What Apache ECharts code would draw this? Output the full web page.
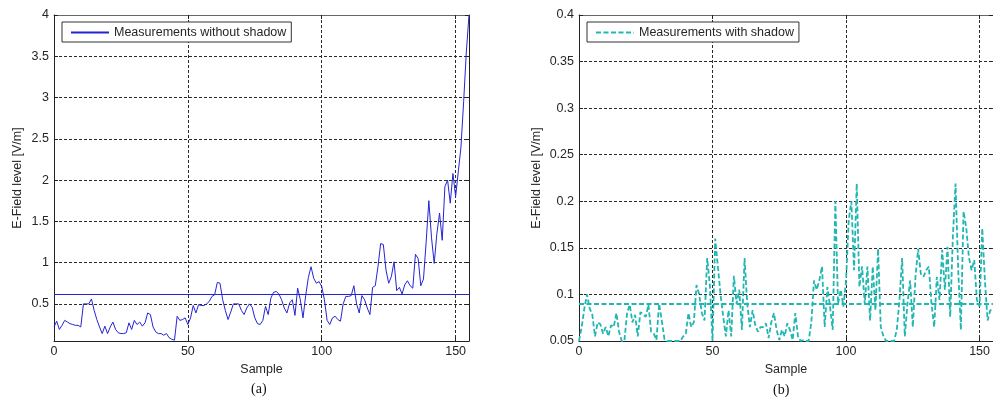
<!DOCTYPE html>
<html>
<head>
<meta charset="utf-8">
<script src="https://cdn.jsdelivr.net/npm/echarts@6/dist/echarts.min.js"></script>
<style>
html,body{margin:0;padding:0;background:#fff;}
#chart{width:993px;height:399px;}
</style>
</head>
<body>
<div id="chart"></div>
<script>
// ---- data ----
const seriesNameA = 'Measurements without shadow';
const seriesNameB = 'Measurements with shadow';

const valuesA = [
  0.22,0.29,0.19,0.24,0.30,0.28,0.26,0.25,0.24,0.24,
  0.22,0.50,0.50,0.50,0.56,0.42,0.31,0.22,0.14,0.23,
  0.14,0.22,0.28,0.19,0.15,0.14,0.14,0.15,0.27,0.19,
  0.30,0.25,0.28,0.23,0.27,0.39,0.37,0.22,0.16,0.14,
  0.14,0.12,0.14,0.09,0.07,0.06,0.35,0.30,0.31,0.33,
  0.25,0.33,0.48,0.39,0.49,0.48,0.48,0.50,0.53,0.59,
  0.61,0.76,0.75,0.55,0.42,0.31,0.40,0.50,0.50,0.50,
  0.42,0.37,0.45,0.50,0.46,0.33,0.26,0.25,0.30,0.47,
  0.37,0.57,0.64,0.65,0.62,0.55,0.45,0.39,0.51,0.55,
  0.36,0.69,0.55,0.33,0.60,0.82,0.95,0.81,0.75,0.77,
  0.71,0.55,0.30,0.25,0.33,0.35,0.31,0.29,0.50,0.59,
  0.59,0.60,0.72,0.50,0.39,0.60,0.55,0.45,0.37,0.70,
  0.72,0.95,1.23,1.22,0.91,0.75,0.83,1.01,0.66,0.70,
  0.62,0.73,0.78,0.72,0.69,1.10,1.05,0.72,0.80,1.25,
  1.75,1.30,0.99,1.35,1.60,1.27,1.92,2.00,1.72,2.08,
  1.80,2.10,2.40,2.95,3.55,4.00
];

const valuesB = [
  0.05,0.065,0.085,0.1,0.085,0.078,0.055,0.07,0.068,0.058,
  0.065,0.055,0.067,0.065,0.08,0.06,0.05,0.05,0.08,0.089,
  0.07,0.078,0.055,0.081,0.079,0.076,0.089,0.06,0.058,0.051,
  0.09,0.072,0.052,0.05,0.05,0.05,0.05,0.05,0.05,0.055,
  0.058,0.08,0.065,0.07,0.11,0.1,0.08,0.072,0.139,0.11,
  0.05,0.16,0.13,0.1,0.076,0.055,0.083,0.055,0.12,0.09,
  0.105,0.062,0.139,0.09,0.065,0.083,0.067,0.06,0.065,0.065,
  0.069,0.053,0.07,0.08,0.062,0.051,0.062,0.055,0.069,0.062,
  0.051,0.08,0.055,0.05,0.051,0.05,0.05,0.07,0.115,0.105,
  0.115,0.13,0.065,0.108,0.087,0.062,0.2,0.09,0.105,0.087,
  0.115,0.18,0.2,0.126,0.219,0.108,0.13,0.09,0.13,0.072,
  0.13,0.083,0.149,0.065,0.055,0.05,0.05,0.05,0.05,0.062,
  0.094,0.139,0.055,0.09,0.115,0.065,0.119,0.149,0.122,0.119,
  0.126,0.13,0.09,0.065,0.119,0.094,0.148,0.105,0.151,0.076,
  0.162,0.219,0.126,0.062,0.189,0.172,0.14,0.126,0.137,0.094,
  0.087,0.171,0.115,0.072,0.083,0.083
];

const meanA = 0.617;
const meanB = 0.0864;

const xTicks = [0, 50, 100, 150];
const yTicksA = [0.5, 1, 1.5, 2, 2.5, 3, 3.5, 4];
const yTicksB = [0.05, 0.1, 0.15, 0.2, 0.25, 0.3, 0.35, 0.4];

const xRange = [0, 155];
const yRangeA = [0.05, 4];
const yRangeB = [0.05, 0.4];

const xAxisName = 'Sample';
const yAxisName = 'E-Field level [V/m]';
const panelLabels = ['(a)', '(b)'];

// ---- styling ----
const FONT = 'Liberation Sans, Arial, sans-serif';
const TXT = '#262626';
const colorA = '#2424d4';
const colorB = '#22b6b1';
const gridLine = { show: true, lineStyle: { color: '#2a2a2a', width: 1, type: [3, 2] } };

function mainX(gridIndex, ticks) {
  return {
    type: 'value', gridIndex, min: xRange[0], max: xRange[1],
    name: xAxisName, nameLocation: 'middle', nameGap: 19,
    nameTextStyle: { fontFamily: FONT, fontSize: 12.5, color: TXT },
    axisLine: { show: true, onZero: false, lineStyle: { color: '#222', width: 1 } },
    axisTick: { show: true, inside: true, length: 4, customValues: ticks, lineStyle: { color: '#222' } },
    axisLabel: { show: true, customValues: ticks, margin: 4, fontFamily: FONT, fontSize: 12.5, color: TXT },
    splitLine: gridLine
  };
}
function boxX(gridIndex, ticks) {
  return {
    type: 'value', gridIndex, min: xRange[0], max: xRange[1], position: 'top',
    axisLine: { show: true, onZero: false, lineStyle: { color: '#666', width: 1 } },
    axisTick: { show: true, inside: true, length: 4, customValues: ticks, lineStyle: { color: '#222' } },
    axisLabel: { show: false }, splitLine: { show: false }
  };
}
function mainY(gridIndex, range, ticks, gap) {
  return {
    type: 'value', gridIndex, min: range[0], max: range[1],
    name: yAxisName, nameLocation: 'middle', nameGap: gap,
    nameTextStyle: { fontFamily: FONT, fontSize: 12.5, color: TXT },
    axisLine: { show: true, onZero: false, lineStyle: { color: '#222', width: 1 } },
    axisTick: { show: true, inside: true, length: 4, customValues: ticks, lineStyle: { color: '#222' } },
    axisLabel: { show: true, customValues: ticks, margin: 5, fontFamily: FONT, fontSize: 12.5, color: TXT },
    splitLine: gridLine
  };
}
function boxY(gridIndex, range, ticks) {
  return {
    type: 'value', gridIndex, min: range[0], max: range[1], position: 'right',
    axisLine: { show: true, onZero: false, lineStyle: { color: '#222', width: 1 } },
    axisTick: { show: true, inside: true, length: 4, customValues: ticks, lineStyle: { color: '#222' } },
    axisLabel: { show: false }, splitLine: { show: false }
  };
}
function legendAt(name, left) {
  return {
    data: [name], left: left, top: 22, orient: 'horizontal',
    padding: [4, 5, 3, 8], itemWidth: 38, itemHeight: 14,
    backgroundColor: '#fff', borderColor: '#333', borderWidth: 1, borderRadius: 0,
    itemStyle: { opacity: 0, color: 'rgba(0,0,0,0)', borderWidth: 0 },
    textStyle: { fontFamily: FONT, fontSize: 12.5, color: TXT }, selectedMode: false
  };
}

const chart = echarts.init(document.getElementById('chart'), null, { renderer: 'canvas' });
chart.setOption({
  animation: false,
  backgroundColor: '#fff',
  grid: [
    { left: 54, top: 15, width: 415, height: 326 },
    { left: 579, top: 15, width: 415, height: 326 }
  ],
  xAxis: [ mainX(0, xTicks), boxX(0, xTicks), mainX(1, xTicks), boxX(1, xTicks) ],
  yAxis: [
    mainY(0, yRangeA, yTicksA, 30), boxY(0, yRangeA, yTicksA),
    mainY(1, yRangeB, yTicksB, 36), boxY(1, yRangeB, yTicksB)
  ],
  legend: [ legendAt(seriesNameA, 62), legendAt(seriesNameB, 587) ],
  graphic: [
    { type: 'text', left: 251, top: 382, style: { text: panelLabels[0], font: '14px "Liberation Serif", "Times New Roman", serif', fill: '#111' } },
    { type: 'text', left: 773, top: 383, style: { text: panelLabels[1], font: '14px "Liberation Serif", "Times New Roman", serif', fill: '#111' } }
  ],
  series: [
    {
      name: seriesNameA, type: 'line', xAxisIndex: 0, yAxisIndex: 0,
      data: valuesA.map((v, i) => [i, v]),
      symbol: 'none', showSymbol: false, clip: true,
      itemStyle: { color: colorA },
      lineStyle: { color: colorA, width: 1 },
      markLine: {
        silent: true, symbol: ['none', 'none'], label: { show: false },
        lineStyle: { color: colorA, width: 1, type: 'solid' },
        data: [{ yAxis: meanA }]
      }
    },
    {
      name: seriesNameB, type: 'line', xAxisIndex: 2, yAxisIndex: 2,
      data: valuesB.map((v, i) => [i, v]),
      symbol: 'none', showSymbol: false, clip: true,
      itemStyle: { color: colorB },
      lineStyle: { color: colorB, width: 1.8, type: [5, 2.5] },
      markLine: {
        silent: true, symbol: ['none', 'none'], label: { show: false },
        lineStyle: { color: colorB, width: 1.8, type: [5, 2.5] },
        data: [{ yAxis: meanB }]
      }
    }
  ]
});
</script>
</body>
</html>
